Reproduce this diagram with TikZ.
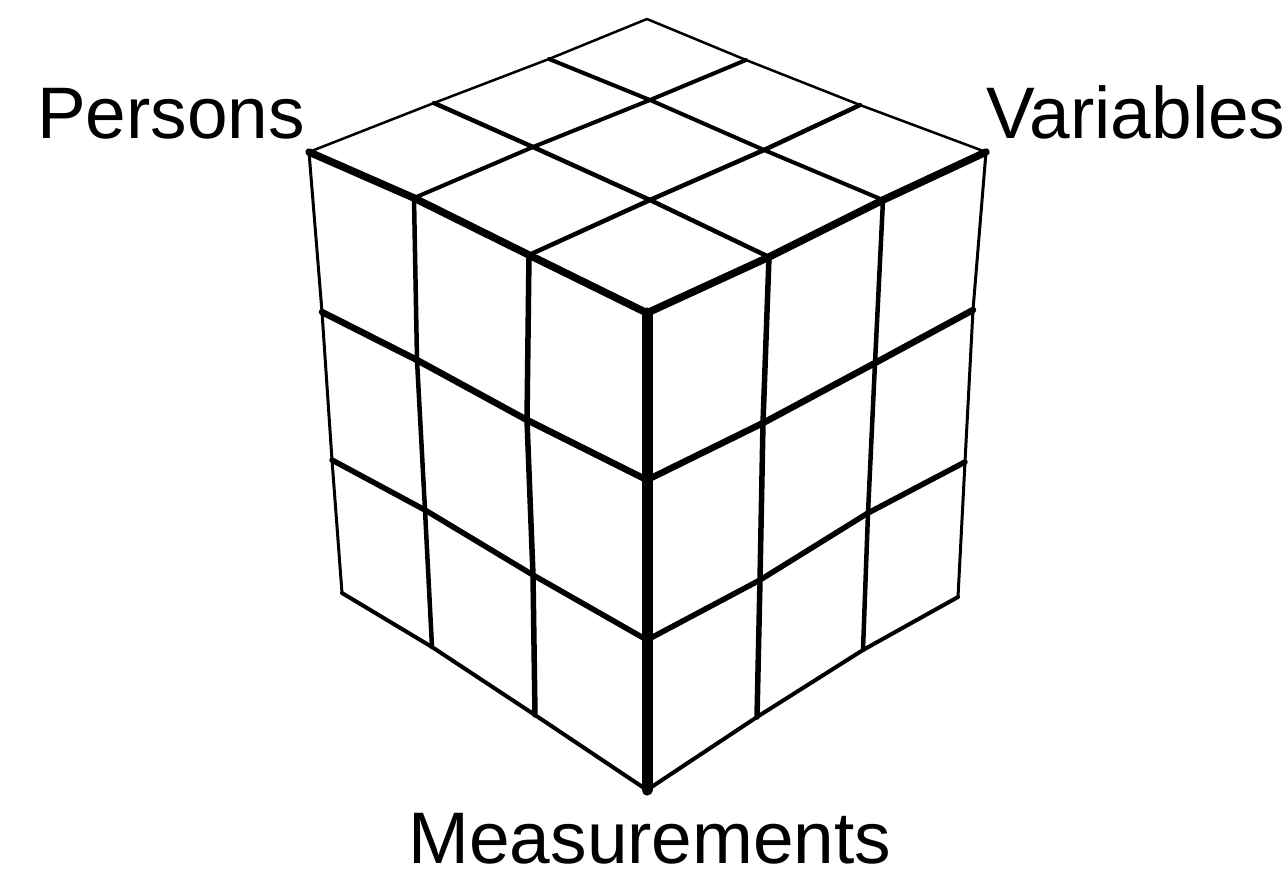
\documentclass[tikz,border=0pt]{standalone}
\usepackage{fontspec}
\setmainfont{Liberation Sans}
\begin{document}
\begin{tikzpicture}[x=1pt,y=-1pt,
  ln/.style={line width=#1, line join=round, line cap=round, draw=black},
  lbl/.style={font=\fontsize{73}{86}\selectfont, inner sep=0pt, anchor=base, text depth=0pt}]
\useasboundingbox (0,0) rectangle (1286,873);
% top face grid t<i><j>: i along back->left, j along back->right
\coordinate (t00) at (647,19);  \coordinate (t01) at (746,60);  \coordinate (t02) at (860,105); \coordinate (t03) at (986,152);
\coordinate (t10) at (549,59);  \coordinate (t11) at (650,100); \coordinate (t12) at (764,150); \coordinate (t13) at (883,200);
\coordinate (t20) at (434,103); \coordinate (t21) at (533,147); \coordinate (t22) at (650,200); \coordinate (t23) at (769,257);
\coordinate (t30) at (309,152); \coordinate (t31) at (414,198); \coordinate (t32) at (529,255); \coordinate (t33) at (647,313);
% left face q<c><r>
\coordinate (q01) at (322,312); \coordinate (q11) at (417,360); \coordinate (q21) at (527,420); \coordinate (q31) at (647,480);
\coordinate (q02) at (332,460); \coordinate (q12) at (425,510); \coordinate (q22) at (533,575); \coordinate (q32) at (647,640);
\coordinate (q03) at (342,593); \coordinate (q13) at (432,647); \coordinate (q23) at (535,715); \coordinate (q33) at (647,790);
% right face w<c><r>, c from front to right
\coordinate (w11) at (763,423); \coordinate (w21) at (875,363); \coordinate (w31) at (973,310);
\coordinate (w12) at (760,580); \coordinate (w22) at (868,513); \coordinate (w32) at (965,462);
\coordinate (w13) at (757,717); \coordinate (w23) at (863,650); \coordinate (w33) at (958,597);

% top face lines
\draw[ln=2.5] (t00)--(t01)--(t02)--(t03);
\draw[ln=2.5] (t00)--(t10)--(t20)--(t30);
\draw[ln=4] (t10)--(t11)--(t12)--(t13);
\draw[ln=4] (t01)--(t11)--(t21)--(t31);
\draw[ln=4.5] (t20)--(t21)--(t22)--(t23);
\draw[ln=4.5] (t02)--(t12)--(t22)--(t32);

% left face lines
\draw[ln=3] (t30)--(q01)--(q02)--(q03);
\draw[ln=4.5] (t31)--(q11)--(q12)--(q13);
\draw[ln=5.5] (t32)--(q21)--(q22)--(q23);
\draw[ln=6.5] (q01)--(q11)--(q21)--(q31);
\draw[ln=5.5] (q02)--(q12)--(q22)--(q32);
\draw[ln=4] (q03)--(q13)--(q23)--(q33);

% right face lines
\draw[ln=3] (t03)--(w31)--(w32)--(w33);
\draw[ln=4.5] (t13)--(w21)--(w22)--(w23);
\draw[ln=5.5] (t23)--(w11)--(w12)--(w13);
\draw[ln=6.5] (q31)--(w11)--(w21)--(w31);
\draw[ln=5.5] (q32)--(w12)--(w22)--(w32);
\draw[ln=4] (q33)--(w13)--(w23)--(w33);

% front top edges
\draw[ln=7.5] (t30)--(t31)--(t32)--(t33);
\draw[ln=7.5] (t03)--(t13)--(t23)--(t33);
% front vertical edge
\draw[ln=11] (t33)--(q31)--(q32)--(q33);

% labels
\node[lbl] (persons) at (171,138) {Persons};
\node[lbl] (variables) at (1136,138) {Variables};
\node[lbl] (measurements) at (650,863) {Measurements};
\end{tikzpicture}
\end{document}
